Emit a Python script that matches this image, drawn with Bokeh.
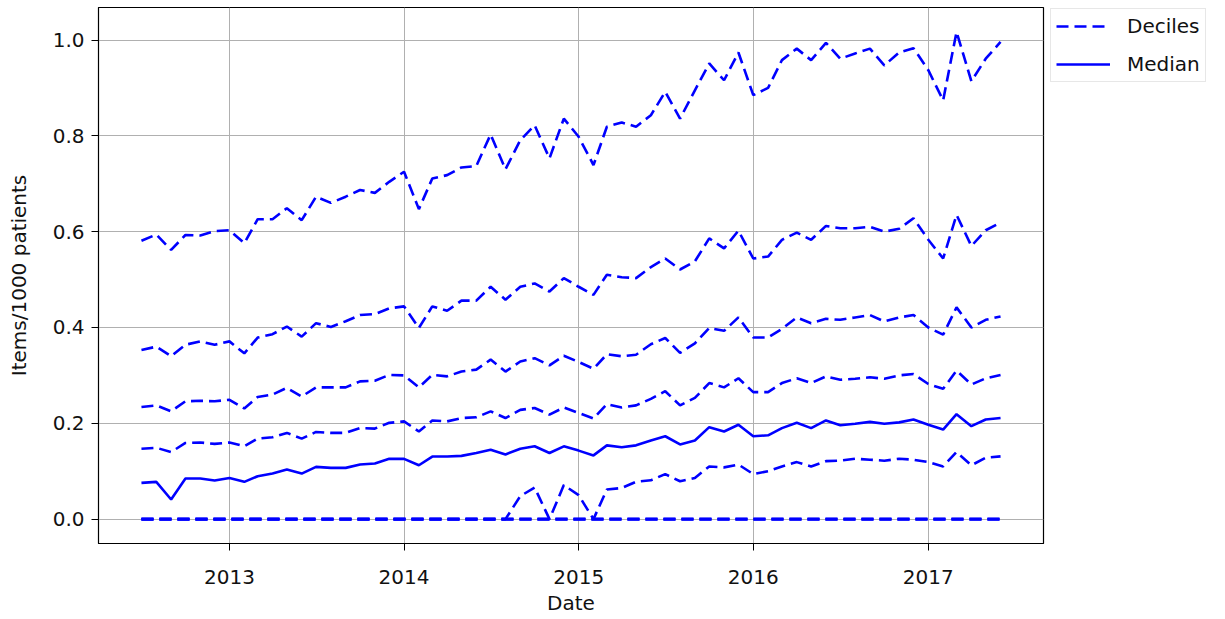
import pandas as pd
from bokeh.plotting import figure
from bokeh.layouts import row
from bokeh.models import (FixedTicker, PrintfTickFormatter, DatetimeTickFormatter,
                          Range1d, Legend, LegendItem, ColumnDataSource)
from bokeh.embed import file_html
from bokeh.resources import INLINE

# ---------------- data (monthly, Jul 2012 - Jun 2017) ----------------
dates = pd.date_range("2012-07-01", periods=60, freq="MS")

p90 = [0.581, 0.594, 0.562, 0.593, 0.592, 0.601, 0.603, 0.576, 0.626, 0.626,
       0.649, 0.624, 0.673, 0.660, 0.673, 0.687, 0.681, 0.704, 0.725, 0.647,
       0.711, 0.718, 0.734, 0.737, 0.803, 0.730, 0.791, 0.822, 0.753, 0.836,
       0.798, 0.739, 0.819, 0.828, 0.819, 0.843, 0.892, 0.836, 0.895, 0.951,
       0.916, 0.974, 0.885, 0.900, 0.958, 0.982, 0.958, 0.994, 0.961, 0.972,
       0.982, 0.947, 0.974, 0.983, 0.937, 0.874, 1.017, 0.914, 0.961, 0.996]

p80 = [0.353, 0.360, 0.340, 0.364, 0.371, 0.364, 0.371, 0.346, 0.379, 0.386,
       0.402, 0.381, 0.409, 0.401, 0.413, 0.426, 0.428, 0.440, 0.444, 0.399,
       0.444, 0.435, 0.456, 0.456, 0.485, 0.458, 0.485, 0.492, 0.475, 0.503,
       0.485, 0.468, 0.510, 0.505, 0.503, 0.526, 0.544, 0.521, 0.538, 0.586,
       0.565, 0.602, 0.544, 0.548, 0.583, 0.598, 0.583, 0.612, 0.607, 0.607,
       0.610, 0.600, 0.606, 0.628, 0.583, 0.544, 0.635, 0.570, 0.603, 0.619]

p70 = [0.234, 0.2375, 0.225, 0.246, 0.247, 0.246, 0.249, 0.231, 0.255, 0.260,
       0.274, 0.256, 0.275, 0.275, 0.275, 0.2875, 0.289, 0.301, 0.300, 0.275,
       0.301, 0.298, 0.308, 0.312, 0.333, 0.308, 0.329, 0.336, 0.321, 0.341,
       0.328, 0.314, 0.344, 0.340, 0.343, 0.365, 0.378, 0.347, 0.367, 0.399,
       0.393, 0.421, 0.379, 0.379, 0.397, 0.421, 0.409, 0.418, 0.416, 0.421,
       0.426, 0.4125, 0.421, 0.426, 0.400, 0.385, 0.442, 0.400, 0.416, 0.423]

p60 = [0.147, 0.149, 0.140, 0.159, 0.160, 0.157, 0.160, 0.152, 0.168, 0.171,
       0.180, 0.168, 0.182, 0.180, 0.180, 0.190, 0.189, 0.201, 0.204, 0.183,
       0.206, 0.204, 0.211, 0.2125, 0.225, 0.211, 0.228, 0.232, 0.218, 0.233,
       0.2215, 0.210, 0.240, 0.233, 0.2375, 0.251, 0.267, 0.2375, 0.253, 0.284,
       0.275, 0.294, 0.265, 0.265, 0.284, 0.294, 0.284, 0.298, 0.291, 0.293,
       0.296, 0.293, 0.300, 0.303, 0.282, 0.272, 0.310, 0.281, 0.294, 0.301]

median = [0.0757, 0.0778, 0.041, 0.0847, 0.0847, 0.0806, 0.086, 0.0778, 0.0896, 0.0951,
          0.1035, 0.0951, 0.109, 0.107, 0.107, 0.114, 0.116, 0.126, 0.1257, 0.1125,
          0.1306, 0.1306, 0.132, 0.138, 0.145, 0.135, 0.147, 0.152, 0.138, 0.152,
          0.143, 0.133, 0.154, 0.150, 0.154, 0.164, 0.173, 0.156, 0.164, 0.192,
          0.183, 0.197, 0.173, 0.175, 0.190, 0.201, 0.190, 0.206, 0.196, 0.199,
          0.203, 0.199, 0.202, 0.208, 0.197, 0.187, 0.219, 0.194, 0.208, 0.211]

p40 = [0.0] * 26 + [0.048, 0.066, 0.0, 0.071,
                    0.050, 0.0, 0.062, 0.065, 0.078, 0.081, 0.094, 0.079, 0.086, 0.110,
                    0.108, 0.114, 0.094, 0.100, 0.110, 0.119, 0.110, 0.121, 0.122, 0.126,
                    0.124, 0.122, 0.126, 0.124, 0.119, 0.110, 0.140, 0.1125, 0.128, 0.131]

p30 = [0.0] * 60
p20 = [0.0] * 60
p10 = [0.0] * 60

year_ticks = [2013, 2014, 2015, 2016, 2017]
y_ticks = [0.0, 0.2, 0.4, 0.6, 0.8, 1.0]
legend_labels = ["Deciles", "Median"]

# ---------------- ranges (matplotlib-like 5% margins) ----------------
def ms(ts):
    return pd.Timestamp(ts).value / 1e6

x0, x1 = ms(dates[0]), ms(dates[-1])
xpad = 0.05 * (x1 - x0)
all_vals = p90 + p80 + p70 + p60 + median + p40 + p30 + p20 + p10
y0, y1 = min(all_vals), max(all_vals)
ypad = 0.05 * (y1 - y0)

FONT = "DejaVu Sans"
FS = "20px"
BLUE = "#0000ff"
DASH = "12 6"
LW = 2.6

# ---------------- main plot ----------------
p = figure(width=1045, height=619, x_axis_type="datetime",
           x_range=Range1d(x0 - xpad, x1 + xpad),
           y_range=Range1d(y0 - ypad, y1 + ypad),
           output_backend="svg", toolbar_location=None,
           min_border_left=98, min_border_right=2,
           min_border_top=7, min_border_bottom=76)

p.background_fill_color = "white"
p.border_fill_color = "white"
p.outline_line_color = "black"
p.outline_line_width = 1.2

src = ColumnDataSource(dict(date=list(dates), p90=p90, p80=p80, p70=p70, p60=p60,
                            median=median, p40=p40, p30=p30, p20=p20, p10=p10))

for col in ["p10", "p20", "p30", "p40", "p60", "p70", "p80", "p90"]:
    p.line("date", col, source=src, line_color=BLUE, line_width=LW, line_dash=DASH)
p.line("date", "median", source=src, line_color=BLUE, line_width=LW)

p.xaxis.ticker = FixedTicker(ticks=[ms(f"{y}-01-01") for y in year_ticks])
p.xaxis.formatter = DatetimeTickFormatter(years="%Y", months="%Y", days="%Y",
                                          hours="%Y", minutes="%Y")
p.yaxis.ticker = FixedTicker(ticks=y_ticks)
p.yaxis.formatter = PrintfTickFormatter(format="%.1f")

for ax in (p.xaxis[0], p.yaxis[0]):
    ax.axis_line_color = "black"
    ax.major_tick_line_color = "black"
    ax.major_tick_out = 7
    ax.major_tick_in = 0
    ax.minor_tick_line_color = None
    ax.major_label_text_font = FONT
    ax.major_label_text_font_size = FS
    ax.major_label_text_color = "#111111"
    ax.axis_label_text_font = FONT
    ax.axis_label_text_font_size = FS
    ax.axis_label_text_font_style = "normal"
    ax.axis_label_text_color = "#111111"

p.xaxis.axis_label = "Date"
p.yaxis.axis_label = "Items/1000 patients"
p.xaxis.major_label_standoff = 19
p.xaxis.axis_label_standoff = 4
p.yaxis.major_label_standoff = 7
p.yaxis.axis_label_standoff = 19

p.xgrid.grid_line_color = "#b0b0b0"
p.ygrid.grid_line_color = "#b0b0b0"
p.xgrid.grid_line_width = 1
p.ygrid.grid_line_width = 1

# ---------------- legend panel (separate canvas to the right) ----------------
lg = figure(width=180, height=619, x_range=Range1d(0, 1), y_range=Range1d(0, 1),
            x_axis_location=None, y_axis_location=None,
            output_backend="svg", toolbar_location=None,
            min_border_left=4, min_border_right=0, min_border_top=0, min_border_bottom=0)
lg.grid.visible = False
lg.outline_line_color = None
lg.background_fill_color = "white"
lg.border_fill_color = "white"

# proxy lines for the legend keys (kept outside the visible range of this panel)
proxy = ColumnDataSource(dict(x=[-2.0, -1.5], y=[-2.0, -1.5]))
r_dec = lg.line("x", "y", source=proxy, line_color=BLUE, line_width=LW, line_dash=DASH)
r_med = lg.line("x", "y", source=proxy, line_color=BLUE, line_width=LW)

legend = Legend(items=[LegendItem(label=legend_labels[0], renderers=[r_dec]),
                       LegendItem(label=legend_labels[1], renderers=[r_med])],
                location="top_left", orientation="vertical")
legend.label_text_font = FONT
legend.label_text_font_size = FS
legend.label_text_color = "#111111"
legend.glyph_width = 54
legend.glyph_height = 22
legend.label_height = 22
legend.label_standoff = 17
legend.spacing = 14
legend.padding = 5
legend.margin = 1
legend.border_line_color = "#d0d0d0"
legend.border_line_width = 1
legend.background_fill_color = "white"
legend.background_fill_alpha = 1.0
lg.add_layout(legend, "center")

layout = row(p, lg, spacing=0)

open("out.html", "w").write(file_html(layout, INLINE))
